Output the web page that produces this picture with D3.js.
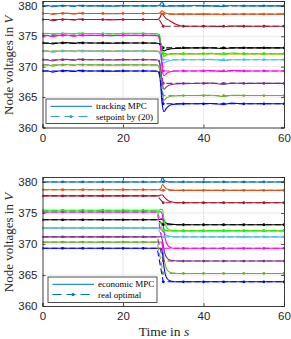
<!DOCTYPE html>
<html><head><meta charset="utf-8">
<script src="https://cdn.jsdelivr.net/npm/d3@7"></script>
<style>body{margin:0;background:#fff}svg{display:block}</style>
</head><body>
<script>
// ---- data ----
const colors = ["#0072BD","#D95319","#EDB120","#7E2F8E","#77AC30","#4DBEEE","#A2142F","#000000","#00FF00","#FF00FF","#0000FF"];
const xTicks = [0, 20, 40, 60];
const yTicks = [360, 365, 370, 375, 380];
// reference (setpoint / real optimal) values before and after the load step
const oldV = [380.0, 378.75, 372.6, 371.15, 370.3, 372.55, 377.75, 373.9, 375.45, 375.15, 369.3];
const newV = [380.0, 378.65, 372.1, 367.25, 365.25, 371.15, 376.65, 373.1, 372.15, 369.3, 363.9];
const refTopT = [0, 29.0, 30.0, 60];
const refBotT = [0, 28.5, 30.0, 60];
const markerT = [0, 5, 10, 15, 20, 25, 30, 35, 40, 45, 50, 55, 60];

// tracking MPC trajectories (top)
const tTop = [0, 1.5, 2.5, 4, 6, 8, 9, 11, 14, 17, 20, 23, 26, 28.6, 29.2, 29.7, 30.2, 30.7, 31.3, 32, 33, 35, 38, 42, 45, 47, 50, 54, 57, 60];
const trackMPC = [
 [380.0,380.05,379.85,380.0,380.05,379.9,380.1,380.0,380.0,379.95,380.05,380.0,380.0,380.0,380.2,380.7,380.1,379.9,380.0,380.0,380.0,380.0,380.05,380.0,379.9,380.05,380.0,380.0,380.0,380.0],
 [378.75,378.75,378.6,378.75,378.8,378.65,378.8,378.75,378.75,378.7,378.75,378.75,378.75,378.75,378.85,379.2,378.95,378.8,378.7,378.65,378.65,378.65,378.65,378.65,378.6,378.65,378.65,378.65,378.65,378.65],
 [372.6,372.6,372.4,372.6,372.65,372.5,372.7,372.6,372.6,372.55,372.6,372.6,372.6,372.6,372.3,371.6,371.7,371.9,372.0,372.1,372.1,372.1,372.1,372.15,372.05,372.1,372.1,372.1,372.1,372.1],
 [371.15,371.1,370.95,371.15,371.2,371.05,371.25,371.15,371.15,371.1,371.15,371.15,371.15,371.1,370.2,367.5,366.3,366.6,366.9,367.05,367.15,367.2,367.25,367.3,367.1,367.3,367.25,367.25,367.25,367.25],
 [370.3,370.3,370.1,370.3,370.35,370.2,370.4,370.3,370.3,370.25,370.3,370.3,370.3,370.25,369.2,365.8,364.5,364.8,365.0,365.15,365.2,365.25,365.25,365.3,365.1,365.3,365.25,365.25,365.25,365.25],
 [372.55,372.5,372.4,372.55,372.6,372.45,372.65,372.55,372.55,372.5,372.55,372.55,372.55,372.5,372.1,370.8,370.6,370.8,370.95,371.05,371.1,371.15,371.15,371.2,371.0,371.15,371.15,371.15,371.15,371.15],
 [377.75,377.75,377.55,377.75,377.8,377.65,377.85,377.75,377.75,377.7,377.75,377.75,377.75,377.75,378.1,378.8,378.3,377.9,377.7,377.4,377.0,376.65,376.65,376.65,376.6,376.7,376.65,376.65,376.65,376.65],
 [373.9,373.85,373.75,373.9,373.95,373.8,373.95,373.9,373.9,373.85,373.9,373.9,373.9,373.85,373.6,372.8,372.6,372.75,372.85,372.95,373.0,373.05,373.1,373.1,372.95,373.1,373.1,373.1,373.1,373.1],
 [375.45,375.5,375.3,375.45,375.5,375.35,375.55,375.45,375.45,375.4,375.45,375.5,375.45,375.4,374.6,372.3,371.7,371.9,372.05,372.1,372.15,372.15,372.15,372.2,372.05,372.25,372.15,372.15,372.15,372.15],
 [375.15,375.1,374.95,375.15,375.2,375.0,375.2,375.15,375.15,375.1,375.15,375.15,375.15,375.1,374.0,369.8,368.5,368.8,369.1,369.2,369.3,369.3,369.3,369.35,369.2,369.4,369.3,369.3,369.3,369.3],
 [369.3,369.3,369.1,369.3,369.35,369.2,369.4,369.3,369.3,369.25,369.3,369.3,369.3,369.25,368.1,364.0,362.6,363.1,363.5,363.75,363.85,363.9,363.9,363.95,363.8,364.0,363.9,363.9,363.9,363.9]
];

// economic MPC trajectories (bottom)
const tBot = [0, 28.8, 29.4, 29.8, 30.2, 30.6, 31.0, 31.5, 32.0, 32.8, 34, 60];
const econMPC = [
 [380.0,380.0,380.1,380.7,380.3,380.1,380.05,380.0,380.0,380.0,380.0,380.0],
 [378.75,378.75,378.9,379.6,379.3,379.0,378.85,378.75,378.7,378.65,378.65,378.65],
 [372.6,372.6,372.7,372.6,372.4,372.25,372.15,372.1,372.1,372.1,372.1,372.1],
 [371.15,371.15,371.2,370.6,369.0,368.1,367.7,367.45,367.35,367.3,367.25,367.25],
 [370.3,370.3,370.3,369.6,367.6,366.4,365.8,365.5,365.35,365.3,365.25,365.25],
 [372.55,372.55,372.6,372.3,371.8,371.5,371.35,371.25,371.2,371.15,371.15,371.15],
 [377.75,377.75,377.9,377.9,377.6,377.3,377.1,376.9,376.8,376.7,376.65,376.65],
 [373.9,373.9,374.0,374.0,373.7,373.45,373.3,373.25,373.2,373.15,373.1,373.1],
 [375.45,375.45,375.6,375.5,374.0,373.0,372.55,372.3,372.2,372.15,372.15,372.15],
 [375.15,375.15,375.2,374.6,372.0,370.6,369.9,369.55,369.4,369.3,369.3,369.3],
 [369.3,369.3,369.3,368.5,366.2,364.9,364.4,364.1,364.0,363.9,363.9,363.9]
];

// ---- drawing ----
const W = 291, H = 339;
const svg = d3.select("body").append("svg").attr("width", W).attr("height", H)
  .style("font-family", "'Liberation Sans', Arial, sans-serif");
const axisColor = "#262626";

function panel(cfg) {
  const x = d3.scaleLinear().domain([0, 60]).range([42.5, 284]);
  const y = d3.scaleLinear().domain([360, 380.8]).range([cfg.bottom, cfg.top]);
  const g = svg.append("g");
  const clipId = "clip" + cfg.id;
  svg.append("clipPath").attr("id", clipId).append("rect")
    .attr("x", 42.5).attr("y", cfg.top).attr("width", 284 - 42.5).attr("height", cfg.bottom - cfg.top);
  // grid
  g.selectAll(".gx").data(xTicks.slice(1, -1)).join("line")
    .attr("x1", d => x(d)).attr("x2", d => x(d)).attr("y1", cfg.top).attr("y2", cfg.bottom)
    .attr("stroke", "#e3e3e3").attr("stroke-width", 0.8);
  g.selectAll(".gy").data(yTicks.slice(1)).join("line")
    .attr("y1", d => y(d)).attr("y2", d => y(d)).attr("x1", 42.5).attr("x2", 284)
    .attr("stroke", "#e3e3e3").attr("stroke-width", 0.8);

  const pg = g.append("g").attr("clip-path", `url(#${clipId})`);
  const smooth = d3.line().x(d => x(d[0])).y(d => y(d[1])).curve(d3.curveMonotoneX);
  const straight = d3.line().x(d => x(d[0])).y(d => y(d[1]));
  cfg.traj.forEach((s, i) => {
    pg.append("path").attr("d", smooth(cfg.t.map((t, k) => [t, s[k]])))
      .attr("fill", "none").attr("stroke", colors[i]).attr("stroke-width", 1.1);
  });
  colors.forEach((c, i) => {
    const pts = cfg.refT.map((t, k) => [t, k < 2 ? oldV[i] : newV[i]]);
    pg.append("path").attr("d", straight(pts)).attr("fill", "none")
      .attr("stroke", c).attr("stroke-width", 1.1).attr("stroke-dasharray", "6,3");
    pg.selectAll(null).data(markerT).join("circle")
      .attr("cx", t => x(t)).attr("cy", t => y(t < 30 ? oldV[i] : newV[i]))
      .attr("r", 1.4).attr("fill", c);
  });

  // axes box
  const ax = d3.axisBottom(x).tickValues(xTicks).tickSize(-3).tickPadding(6);
  const gx = g.append("g").attr("transform", `translate(0,${cfg.bottom})`).call(ax);
  const ay = d3.axisLeft(y).tickValues(yTicks).tickSize(-3).tickPadding(5);
  const gy = g.append("g").attr("transform", `translate(42.5,0)`).call(ay);
  const ayr = d3.axisRight(y).tickValues(yTicks).tickSize(-3).tickFormat("");
  const gyr = g.append("g").attr("transform", `translate(284,0)`).call(ayr);
  const axt = d3.axisTop(x).tickValues(xTicks).tickSize(-3).tickFormat("");
  const gxt = g.append("g").attr("transform", `translate(0,${cfg.top})`).call(axt);
  [gx, gy, gyr, gxt].forEach(a => {
    a.select(".domain").attr("stroke", axisColor).attr("stroke-width", 0.9);
    a.selectAll(".tick line").attr("stroke", axisColor).attr("stroke-width", 0.8);
    a.selectAll("text").attr("fill", axisColor).attr("font-size", 11.5)
      .attr("font-family", "'Liberation Sans', Arial, sans-serif");
  });

  // y label
  svg.append("text").attr("transform", `translate(12.5,${(cfg.top + cfg.bottom) / 2 + 1}) rotate(-90)`)
    .attr("text-anchor", "middle").attr("font-family", "'Liberation Serif', 'Times New Roman', serif")
    .attr("font-size", 13).attr("fill", axisColor)
    .html('Node voltages in <tspan font-style="italic">V</tspan>');

  // legend
  const L = cfg.legend;
  const lg = svg.append("g");
  lg.append("rect").attr("x", L.x).attr("y", L.y).attr("width", L.w).attr("height", L.h)
    .attr("fill", "#fff").attr("stroke", axisColor).attr("stroke-width", 0.8);
  const ly1 = L.y + 7.3, ly2 = L.y + 17.5;
  lg.append("line").attr("x1", L.x + 4.5).attr("x2", L.x + 46).attr("y1", ly1).attr("y2", ly1)
    .attr("stroke", colors[0]).attr("stroke-width", 1);
  lg.append("line").attr("x1", L.x + 4.5).attr("x2", L.x + 46).attr("y1", ly2).attr("y2", ly2)
    .attr("stroke", L.c2).attr("stroke-width", 1).attr("stroke-dasharray", "9,5");
  lg.append("circle").attr("cx", L.x + 25).attr("cy", ly2).attr("r", 1.5).attr("fill", L.c2);
  [L.t1, L.t2].forEach((t, k) => {
    lg.append("text").attr("x", L.x + 50).attr("y", (k ? ly2 : ly1) + 3)
      .attr("font-family", "'Liberation Serif', 'Times New Roman', serif").attr("font-size", 9)
      .attr("fill", "#000").text(t);
  });
}

panel({id: 1, top: 1, bottom: 127.5, t: tTop, traj: trackMPC, refT: refTopT,
  legend: {x: 46, y: 99, w: 112, h: 24.5, t1: "tracking MPC", t2: "setpoint by (20)", c2: "#3a98da"}});
panel({id: 2, top: 177, bottom: 306, t: tBot, traj: econMPC, refT: refBotT,
  legend: {x: 48, y: 277, w: 109, h: 25.5, t1: "economic MPC", t2: "real optimal", c2: colors[0]}});

svg.append("text").attr("x", 164).attr("y", 336).attr("text-anchor", "middle")
  .attr("font-family", "'Liberation Serif', 'Times New Roman', serif").attr("font-size", 13.5)
  .attr("fill", axisColor).html('Time in <tspan font-style="italic">s</tspan>');
</script>
</body></html>
